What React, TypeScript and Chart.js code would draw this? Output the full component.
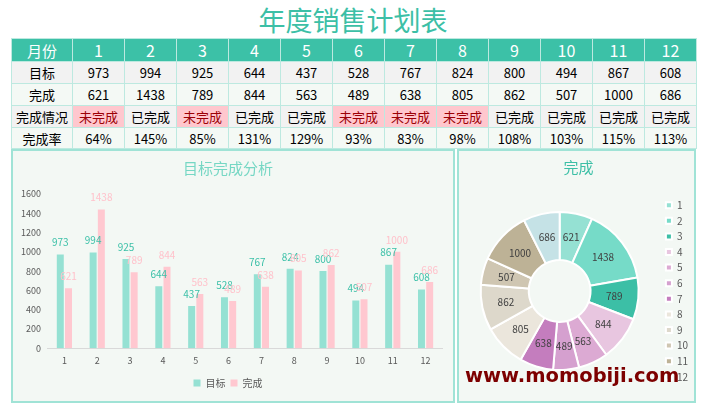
import React, { useEffect, useRef } from "react";
import { Chart, registerables } from "chart.js";

Chart.register(...registerables);

const months = ["1", "2", "3", "4", "5", "6", "7", "8", "9", "10", "11", "12"];
const targetValues = [973, 994, 925, 644, 437, 528, 767, 824, 800, 494, 867, 608];
const actualValues = [621, 1438, 789, 844, 563, 489, 638, 805, 862, 507, 1000, 686];
const statusLabels = ["未完成", "已完成", "未完成", "已完成", "已完成", "未完成", "未完成", "未完成", "已完成", "已完成", "已完成", "已完成"];
const rateLabels = ["64%", "145%", "85%", "131%", "129%", "93%", "83%", "98%", "108%", "103%", "115%", "113%"];
const seriesNames = ["目标", "完成"];
const sliceColors = [
  "#95e1d3", "#76dbc8", "#3cbfa6", "#e8c6e0", "#dcaad3", "#d5a0cf",
  "#c47dbe", "#ebe6dc", "#ddd8cb", "#cfc6b2", "#bdb296", "#c5e2e6",
];

const FONT = "'Noto Sans CJK SC', 'Noto Sans', sans-serif";
const BORDER = "#bde9e0";
const PANEL_BG = "#f3f8f4";

const barLabelColors = ["#3cc0a8", "#ffc2cb"];

const barLabelPlugin = {
  id: "barLabels",
  afterDatasetsDraw(chart: any) {
    const ctx = chart.ctx;
    ctx.save();
    ctx.font = `10px ${FONT}`;
    ctx.textAlign = "center";
    ctx.textBaseline = "middle";
    chart.data.datasets.forEach((ds: any, i: number) => {
      const meta = chart.getDatasetMeta(i);
      ctx.fillStyle = barLabelColors[i];
      meta.data.forEach((el: any, j: number) => {
        ctx.fillText(String(ds.data[j]), el.x, el.y - 12);
      });
    });
    ctx.restore();
  },
};

const sliceLabelPlugin = {
  id: "sliceLabels",
  afterDatasetsDraw(chart: any) {
    const ctx = chart.ctx;
    ctx.save();
    ctx.font = `10px ${FONT}`;
    ctx.textAlign = "center";
    ctx.textBaseline = "middle";
    ctx.fillStyle = "#404040";
    const meta = chart.getDatasetMeta(0);
    const data = chart.data.datasets[0].data;
    meta.data.forEach((arc: any, j: number) => {
      const p = arc.tooltipPosition();
      ctx.fillText(String(data[j]), p.x, p.y);
    });
    ctx.restore();
  },
};

function BarChart() {
  const ref = useRef<HTMLCanvasElement>(null);
  useEffect(() => {
    const chart = new Chart(ref.current!, {
      type: "bar",
      data: {
        labels: months,
        datasets: [
          { label: seriesNames[0], data: targetValues, backgroundColor: "#95e1d3", categoryPercentage: 0.5, barPercentage: 0.85 },
          { label: seriesNames[1], data: actualValues, backgroundColor: "#ffc8d0", categoryPercentage: 0.5, barPercentage: 0.85 },
        ],
      },
      options: {
        animation: false,
        responsive: false,
        layout: { padding: { left: 1, right: 11, top: 0, bottom: 3 } },
        font: { family: FONT },
        plugins: {
          title: {
            display: true,
            text: "目标完成分析",
            color: "#76d7c4",
            font: { family: FONT, size: 15, weight: "normal" },
            padding: { top: 8, bottom: 17 },
          },
          legend: {
            position: "bottom",
            labels: { boxWidth: 7, boxHeight: 7, color: "#595959", font: { family: FONT, size: 10 }, padding: 5 },
          },
          tooltip: { enabled: false },
        },
        scales: {
          x: {
            grid: { display: false, drawTicks: false },
            border: { color: "#d9d9d9", width: 1 },
            ticks: { color: "#595959", font: { family: FONT, size: 9 }, padding: 7 },
          },
          y: {
            min: 0,
            max: 1600,
            grid: { display: false, drawTicks: false },
            border: { display: false },
            ticks: {
              stepSize: 200,
              color: "#595959",
              font: { family: FONT, size: 9 },
              padding: 7,
              callback: (v: any) => String(v),
            },
          },
        },
      },
      plugins: [barLabelPlugin],
    } as any);
    return () => chart.destroy();
  }, []);
  return <canvas ref={ref} width={440} height={250} style={{ position: "absolute", left: 13, top: 151, width: 440, height: 250 }} />;
}

function DoughnutChart() {
  const ref = useRef<HTMLCanvasElement>(null);
  useEffect(() => {
    const chart = new Chart(ref.current!, {
      type: "doughnut",
      data: {
        labels: months,
        datasets: [
          {
            data: actualValues,
            backgroundColor: sliceColors,
            borderColor: "#ffffff",
            borderWidth: 2,
            radius: 79,
            cutout: 39,
          },
        ],
      },
      options: {
        animation: false,
        responsive: false,
        layout: { padding: { left: 0, right: 0, top: 0, bottom: 0 } },
        plugins: {
          title: {
            display: true,
            text: "完成",
            color: "#3cbfa6",
            font: { family: FONT, size: 15, weight: "normal" },
            padding: { top: 7, bottom: 5 },
          },
          legend: {
            position: "right",
            fullSize: false,
            labels: { boxWidth: 6, boxHeight: 6, color: "#595959", font: { family: FONT, size: 10 }, padding: 5.6 },
          },
          tooltip: { enabled: false },
        },
      },
      plugins: [sliceLabelPlugin],
    } as any);
    return () => chart.destroy();
  }, []);
  return <canvas ref={ref} width={239} height={250} style={{ position: "absolute", left: 459, top: 151, width: 239, height: 250 }} />;
}

function Cell({ children, bg, color, size = 13 }: any) {
  return (
    <div
      style={{
        background: bg,
        color,
        fontSize: size,
        display: "flex",
        alignItems: "center",
        justifyContent: "center",
        whiteSpace: "nowrap",
      }}
    >
      {children}
    </div>
  );
}

function DataTable() {
  const rowBgA = "#f2f2f2";
  const rowBgB = "#f4f9f5";
  const cells: any[] = [];
  cells.push(<Cell key="h0" bg="#3cc1a7" color="#ffffff" size={15}>月份</Cell>);
  months.forEach((m, i) => cells.push(<Cell key={"h" + (i + 1)} bg="#3cc1a7" color="#ffffff" size={16}>{m}</Cell>));
  cells.push(<Cell key="t0" bg={rowBgA} color="#000">目标</Cell>);
  targetValues.forEach((v, i) => cells.push(<Cell key={"t" + (i + 1)} bg={rowBgA} color="#000">{v}</Cell>));
  cells.push(<Cell key="a0" bg={rowBgB} color="#000">完成</Cell>);
  actualValues.forEach((v, i) => cells.push(<Cell key={"a" + (i + 1)} bg={rowBgB} color="#000">{v}</Cell>));
  cells.push(<Cell key="s0" bg={rowBgA} color="#000">完成情况</Cell>);
  statusLabels.forEach((s, i) => {
    const bad = s === "未完成";
    cells.push(
      <Cell key={"s" + (i + 1)} bg={bad ? "#ffc7ce" : rowBgA} color={bad ? "#9c0006" : "#000"}>{s}</Cell>
    );
  });
  cells.push(<Cell key="r0" bg={rowBgB} color="#000">完成率</Cell>);
  rateLabels.forEach((r, i) => cells.push(<Cell key={"r" + (i + 1)} bg={rowBgB} color="#000">{r}</Cell>));
  return (
    <div
      style={{
        position: "absolute",
        left: 11,
        top: 38,
        display: "grid",
        gridTemplateColumns: "60px repeat(12, 51px)",
        gridTemplateRows: "22px 21px 21px 21px 20px",
        gap: 1,
        padding: 1,
        background: BORDER,
      }}
    >
      {cells}
    </div>
  );
}

export default function App() {
  return (
    <div
      style={{
        position: "fixed",
        left: 0,
        top: 0,
        width: 706,
        height: 412,
        background: "#ffffff",
        fontFamily: FONT,
        overflow: "hidden",
      }}
    >
      <div
        style={{
          position: "absolute",
          left: 0,
          top: 4,
          width: 706,
          textAlign: "center",
          fontSize: 27,
          lineHeight: "32px",
          color: "#3cbfa6",
        }}
      >
        年度销售计划表
      </div>
      <DataTable />
      <div style={{ position: "absolute", left: 11, top: 149, width: 444, height: 254, boxSizing: "border-box", border: "2px solid #a0e3d6", background: PANEL_BG }} />
      <div style={{ position: "absolute", left: 457, top: 149, width: 239, height: 254, boxSizing: "border-box", border: "2px solid #a0e3d6", background: PANEL_BG }} />
      <BarChart />
      <DoughnutChart />
      <div
        style={{
          position: "absolute",
          left: 465,
          top: 364,
          fontFamily: "'DejaVu Sans', sans-serif",
          fontWeight: "bold",
          fontSize: 19.5,
          lineHeight: "24px",
          color: "#7d0000",
          whiteSpace: "nowrap",
        }}
      >
        www.momobiji.com
      </div>
    </div>
  );
}
